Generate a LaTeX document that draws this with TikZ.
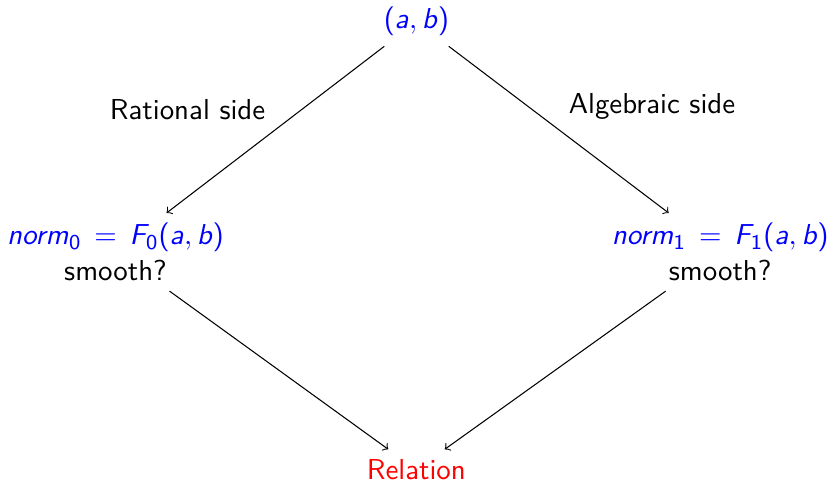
\documentclass[tikz,border=0pt,11pt]{standalone}
\renewcommand{\familydefault}{\sfdefault}
\SetSymbolFont{operators}{normal}{OT1}{cmss}{m}{n}
\DeclareMathAlphabet{\mathsl}{OT1}{cmss}{m}{sl}
\newcommand{\mv}[1]{\mathsl{#1}}
\usetikzlibrary{positioning}

\begin{document}
\begin{tikzpicture}[->,node distance=12mm]
  \useasboundingbox (-5.55,0.29) rectangle (5.5,-6.21);

  \node[text=blue] (pair) at (0,0) {$(\mv{a},\mv{b})$};

  \node[align=center] (rat) at (-4.01,-3.07)
    {{\color{blue}$\mv{norm}_0 \,=\, \mv{F}_0(\mv{a},\mv{b})$}\\smooth?};

  \node[align=center] (alg) at (4.05,-3.07)
    {{\color{blue}$\mv{norm}_1 \,=\, \mv{F}_1(\mv{a},\mv{b})$}\\smooth?};

  \node[text=red] (rel) at (0,-5.97) {Relation};

  \draw (pair) -- node[above left] {Rational side} (rat);
  \draw (pair) -- node[above right] {Algebraic side} (alg);
  \draw (rat) -- (rel);
  \draw (alg) -- (rel);
\end{tikzpicture}
\end{document}
